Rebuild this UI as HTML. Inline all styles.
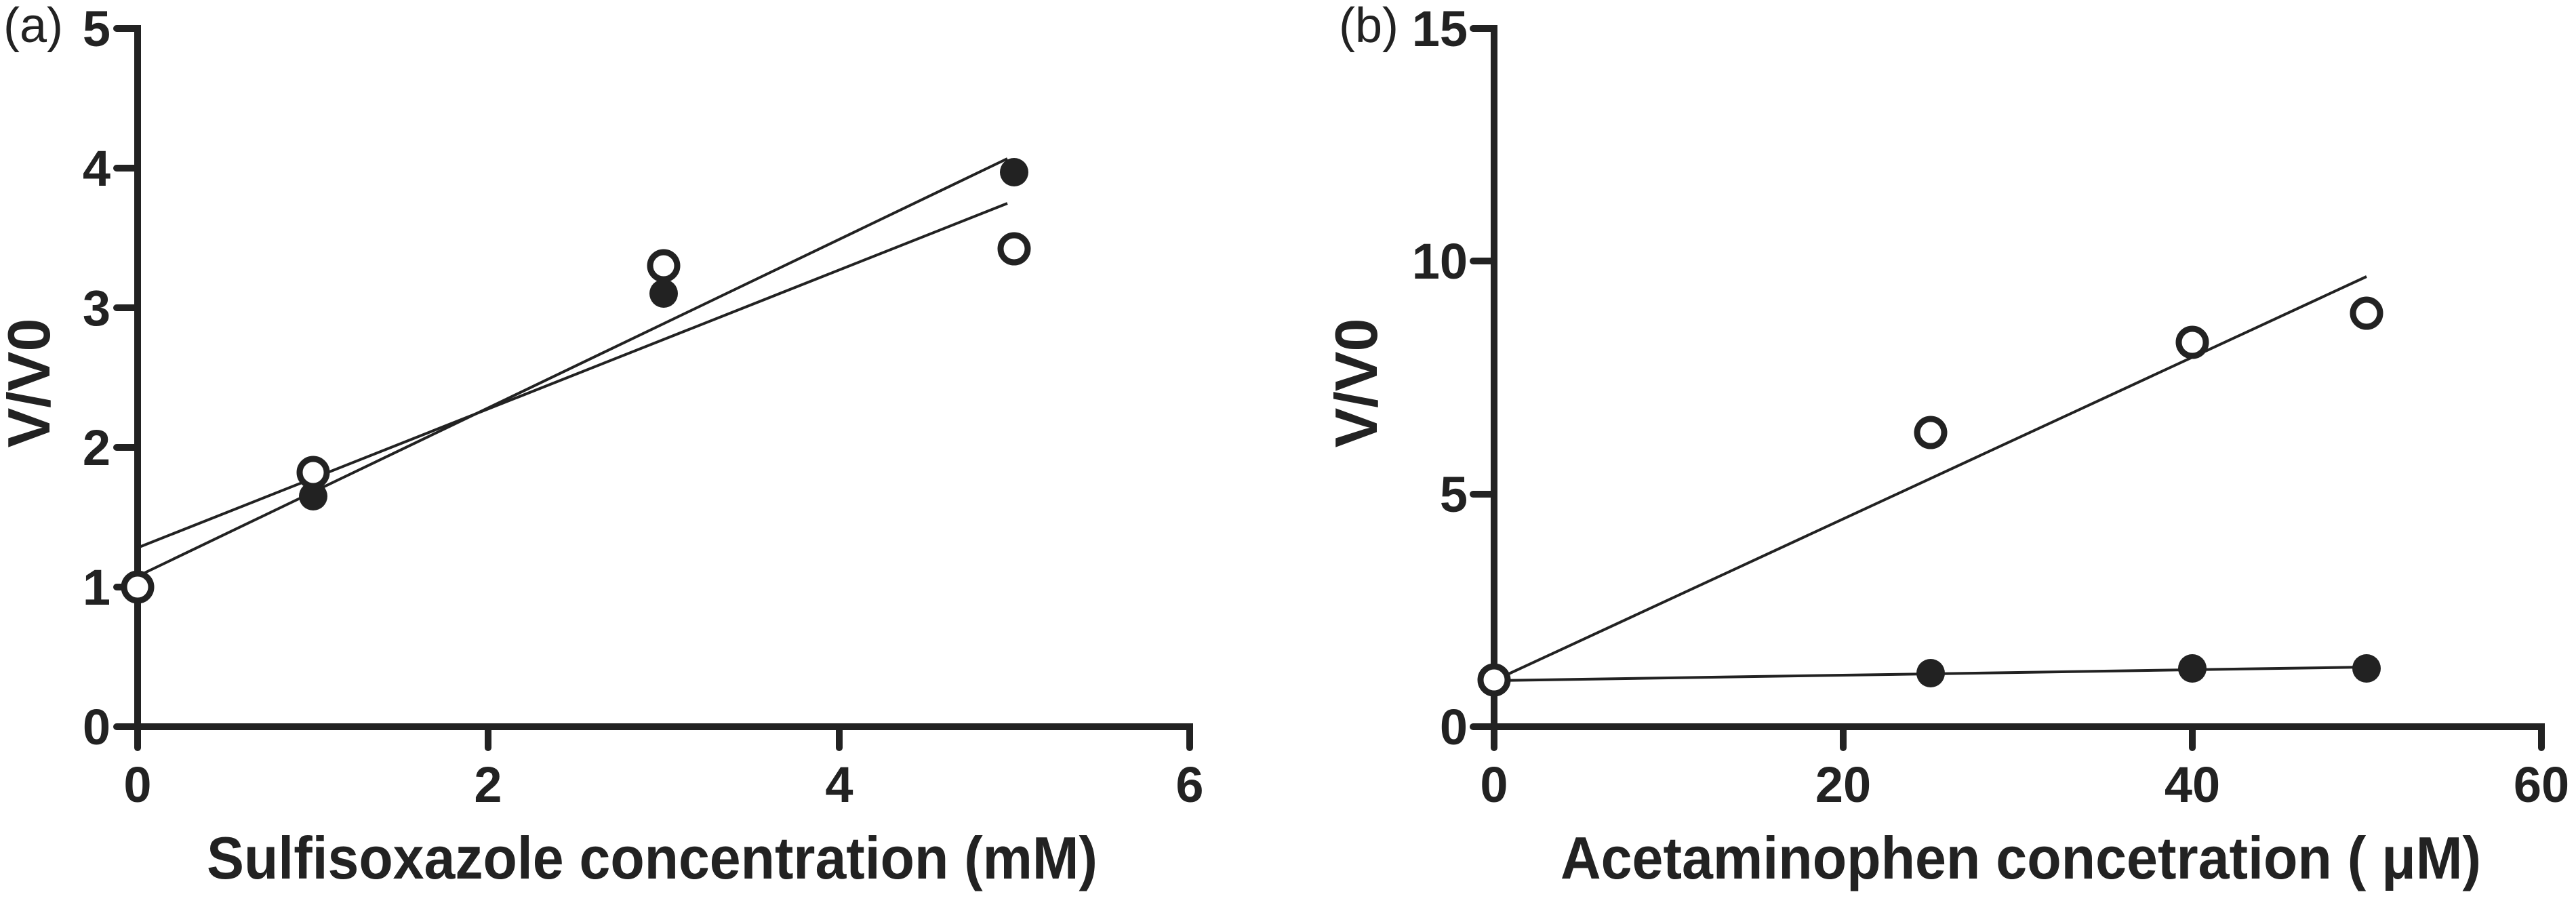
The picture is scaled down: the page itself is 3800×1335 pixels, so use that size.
<!DOCTYPE html>
<html><head><meta charset="utf-8"><style>
html,body{margin:0;padding:0;background:#fff;}
svg{display:block;}
text{font-family:"Liberation Sans",Arial,sans-serif;fill:#222;}
.t{font-weight:bold;font-size:74px;}
.ttl{font-weight:bold;font-size:88px;}
</style></head><body>
<svg width="3800" height="1335" viewBox="0 0 3800 1335" xmlns="http://www.w3.org/2000/svg">
<!-- Panel a -->
<text x="5" y="62" font-size="72">(a)</text>
<g stroke="#222" stroke-width="10" stroke-linecap="round" fill="none">
<path d="M172 42 H203 V1072 H1755 V1103"/>
<path d="M172 248 H203 M172 454 H203 M172 660 H203 M172 866 H203 M172 1072 H203"/>
<path d="M203 1072 V1103 M720 1072 V1103 M1238 1072 V1103"/>
</g>
<g class="t" text-anchor="end">
<text x="163" y="68">5</text><text x="163" y="274">4</text><text x="163" y="480">3</text>
<text x="163" y="686">2</text><text x="163" y="892">1</text><text x="163" y="1098">0</text>
</g>
<g class="t" text-anchor="middle">
<text x="203" y="1183">0</text><text x="720" y="1183">2</text><text x="1238" y="1183">4</text><text x="1755" y="1183">6</text>
</g>
<text class="ttl" x="305" y="1296" textLength="1314" lengthAdjust="spacingAndGlyphs">Sulfisoxazole concentration (mM)</text>
<text class="ttl" transform="translate(73,565) rotate(-90)" text-anchor="middle">V/V0</text>
<g stroke="#222" stroke-width="4" fill="none">
<line x1="203" y1="850" x2="1486" y2="234"/>
<line x1="203" y1="808" x2="1486" y2="300"/>
</g>
<g fill="#222">
<circle cx="462" cy="732" r="21"/><circle cx="979" cy="433" r="21"/><circle cx="1496" cy="254" r="21"/>
</g>
<g fill="#fff" stroke="#222" stroke-width="9">
<circle cx="203" cy="866" r="20"/><circle cx="462" cy="697" r="20"/><circle cx="979" cy="392" r="20"/><circle cx="1496" cy="367" r="20"/>
</g>
<!-- Panel b -->
<text x="1975" y="62" font-size="72">(b)</text>
<g stroke="#222" stroke-width="10" stroke-linecap="round" fill="none">
<path d="M2173 42 H2204 V1072 H3749 V1103"/>
<path d="M2173 385 H2204 M2173 729 H2204 M2173 1072 H2204"/>
<path d="M2204 1072 V1103 M2719 1072 V1103 M3234 1072 V1103"/>
</g>
<g class="t" text-anchor="end">
<text x="2165" y="68">15</text><text x="2165" y="411">10</text><text x="2165" y="755">5</text><text x="2165" y="1098">0</text>
</g>
<g class="t" text-anchor="middle">
<text x="2204" y="1183">0</text><text x="2719" y="1183">20</text><text x="3234" y="1183">40</text><text x="3749" y="1183">60</text>
</g>
<text class="ttl" x="2302" y="1296" textLength="1358" lengthAdjust="spacingAndGlyphs">Acetaminophen concetration ( μM)</text>
<text class="ttl" transform="translate(2031,565) rotate(-90)" text-anchor="middle">V/V0</text>
<g stroke="#222" stroke-width="4" fill="none">
<line x1="2204" y1="1004" x2="3491" y2="408"/>
<line x1="2204" y1="1004" x2="3491" y2="984"/>
</g>
<g fill="#222">
<circle cx="2848" cy="993" r="21"/><circle cx="3234" cy="986" r="21"/><circle cx="3491" cy="986" r="21"/>
</g>
<g fill="#fff" stroke="#222" stroke-width="9">
<circle cx="2204" cy="1003" r="20"/><circle cx="2848" cy="638" r="20"/><circle cx="3234" cy="505" r="20"/><circle cx="3491" cy="462" r="20"/>
</g>
</svg>
</body></html>
